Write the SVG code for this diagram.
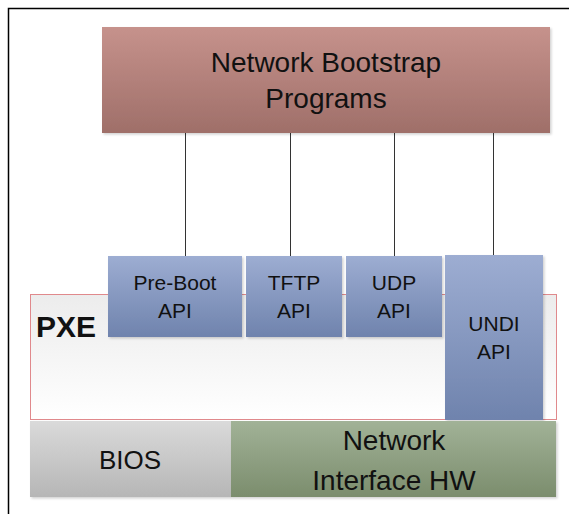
<svg xmlns="http://www.w3.org/2000/svg" width="569" height="514" viewBox="0 0 569 514">
  <defs>
    <linearGradient id="gRed" x1="0" y1="0" x2="0" y2="1">
      <stop offset="0" stop-color="#c6928c"/>
      <stop offset="1" stop-color="#9f6f69"/>
    </linearGradient>
    <linearGradient id="gBlue" x1="0" y1="0" x2="0" y2="1">
      <stop offset="0" stop-color="#9dadd2"/>
      <stop offset="1" stop-color="#6f83ad"/>
    </linearGradient>
    <linearGradient id="gPxe" x1="0" y1="0" x2="0" y2="1">
      <stop offset="0" stop-color="#ececec"/>
      <stop offset="1" stop-color="#ffffff"/>
    </linearGradient>
    <linearGradient id="gGray" x1="0" y1="0" x2="0" y2="1">
      <stop offset="0" stop-color="#dadada"/>
      <stop offset="1" stop-color="#b6b6b6"/>
    </linearGradient>
    <linearGradient id="gGreen" x1="0" y1="0" x2="0" y2="1">
      <stop offset="0" stop-color="#a1b297"/>
      <stop offset="1" stop-color="#7b8d6d"/>
    </linearGradient>
    <filter id="shadow" x="-5%" y="-5%" width="115%" height="120%">
      <feDropShadow dx="1.5" dy="1.5" stdDeviation="1" flood-color="#000" flood-opacity="0.18"/>
    </filter>
  </defs>
  <style>
    text { font-family: "Liberation Sans", Arial, sans-serif; fill: #111; text-anchor: middle; }
    .big { font-size: 28px; }
    .api { font-size: 21px; }
    .pxe { font-size: 30px; font-weight: bold; text-anchor: start; }
    .conn { stroke: #333; stroke-width: 1; fill: none; }
  </style>

  <rect width="569" height="514" fill="#ffffff"/>

  <!-- page frame: top and left edges only -->
  <path d="M8.5,514 V8.5 H569" fill="none" stroke="#000" stroke-width="1.5"/>

  <!-- PXE layer -->
  <g id="pxe">
    <rect x="30.5" y="294.5" width="526" height="125" fill="url(#gPxe)" stroke="#e0898c" stroke-width="1"/>
    <text class="pxe" x="36" y="337">PXE</text>
  </g>

  <!-- connectors from bootstrap programs to the APIs -->
  <g id="connectors">
    <line class="conn" x1="185.5" y1="133" x2="185.5" y2="256"/>
    <line class="conn" x1="290.5" y1="133" x2="290.5" y2="256"/>
    <line class="conn" x1="394.5" y1="133" x2="394.5" y2="256"/>
    <line class="conn" x1="493.5" y1="133" x2="493.5" y2="255"/>
  </g>

  <g id="nbp">
    <rect x="102" y="27" width="448" height="106" fill="url(#gRed)" filter="url(#shadow)"/>
    <text class="big" x="326" y="72">Network Bootstrap</text>
    <text class="big" x="326" y="108">Programs</text>
  </g>

  <g id="preboot-api">
    <rect x="108" y="256" width="134" height="81" fill="url(#gBlue)" filter="url(#shadow)"/>
    <text class="api" x="175" y="290">Pre-Boot</text>
    <text class="api" x="175" y="318">API</text>
  </g>

  <g id="tftp-api">
    <rect x="246" y="256" width="96" height="81" fill="url(#gBlue)" filter="url(#shadow)"/>
    <text class="api" x="294" y="290">TFTP</text>
    <text class="api" x="294" y="318">API</text>
  </g>

  <g id="udp-api">
    <rect x="346" y="256" width="96" height="81" fill="url(#gBlue)" filter="url(#shadow)"/>
    <text class="api" x="394" y="290">UDP</text>
    <text class="api" x="394" y="318">API</text>
  </g>

  <g id="undi-api">
    <rect x="445" y="255" width="98" height="165" fill="url(#gBlue)" filter="url(#shadow)"/>
    <text class="api" x="494" y="331">UNDI</text>
    <text class="api" x="494" y="359">API</text>
  </g>

  <g id="bios">
    <rect x="30" y="421" width="201" height="76" fill="url(#gGray)" filter="url(#shadow)"/>
    <text class="big" x="130" y="469" style="font-size:26px">BIOS</text>
  </g>

  <g id="nic-hw">
    <rect x="231" y="421" width="325" height="76" fill="url(#gGreen)" filter="url(#shadow)"/>
    <text class="big" x="394" y="450">Network</text>
    <text class="big" x="394" y="490">Interface HW</text>
  </g>
</svg>
